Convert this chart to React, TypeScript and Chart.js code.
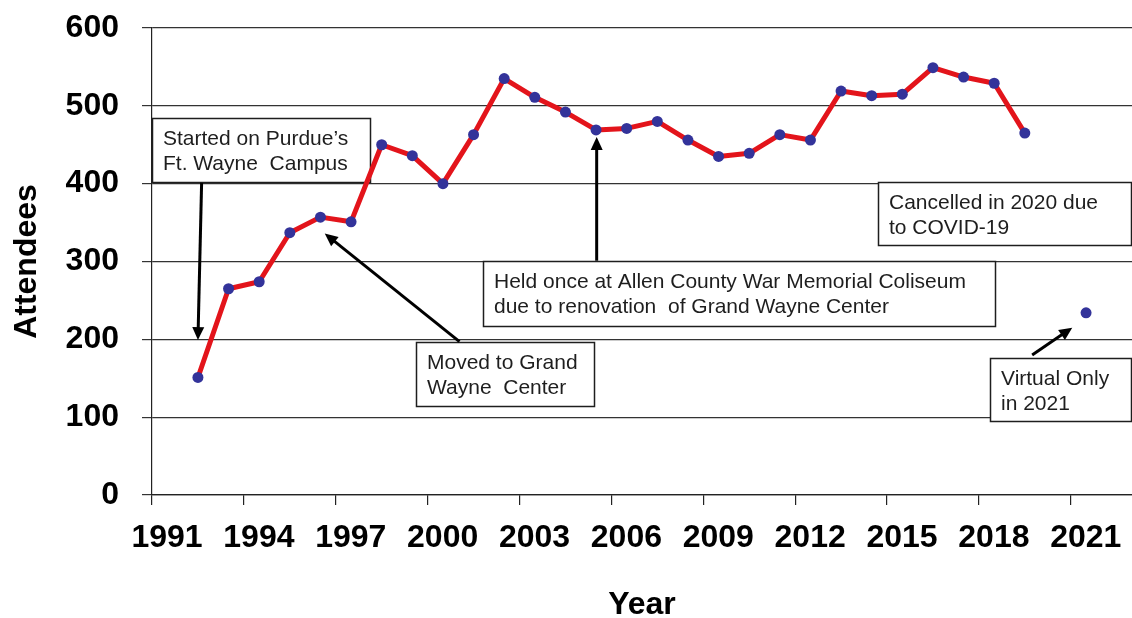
import React, { useEffect, useRef } from 'react';
import { Chart, registerables } from 'chart.js';

Chart.register(...registerables);

// ---- data ----
const years = [
  1992, 1993, 1994, 1995, 1996, 1997, 1998, 1999, 2000, 2001,
  2002, 2003, 2004, 2005, 2006, 2007, 2008, 2009, 2010, 2011,
  2012, 2013, 2014, 2015, 2016, 2017, 2018, 2019, 2020, 2021,
];
const attendees: (number | null)[] = [
  151, 265, 274, 337, 357, 351, 450, 436, 400, 463,
  535, 511, 492, 469, 471, 480, 456, 435, 439, 463,
  456, 519, 513, 515, 549, 537, 529, 465, null, 234,
];
const xTickYears = [1991, 1994, 1997, 2000, 2003, 2006, 2009, 2012, 2015, 2018, 2021];
const yTickValues = [0, 100, 200, 300, 400, 500, 600];

// annotation boxes: [xLeft, yTop, xRight, yBottom] in data units; arrows [from, to] in data units
type Note = { lines: string[]; box: number[]; arrow?: number[][] };
const notes: Note[] = [
  { lines: ['Started on Purdue\u2019s', 'Ft. Wayne  Campus'], box: [1991, 485, 1998.15, 402], arrow: [[1992.62, 401], [1992.5, 199]] },
  { lines: ['Moved to Grand', 'Wayne  Center'], box: [1999.61, 197, 2005.45, 114.7], arrow: [[2001.04, 197], [1996.64, 336]] },
  { lines: ['Held once at Allen County War Memorial Coliseum', 'due to renovation  of Grand Wayne Center'], box: [2001.8, 301, 2018.57, 217.5], arrow: [[2005.52, 301], [2005.52, 460]] },
  { lines: ['Cancelled in 2020 due', 'to COVID-19'], box: [2014.72, 402.5, 2023, 321.5] },
  { lines: ['Virtual Only', 'in 2021'], box: [2018.37, 176.4, 2023, 95.5], arrow: [[2019.74, 180], [2021.05, 215]] },
];

const notesPlugin = {
  id: 'notes',
  beforeDatasetsDraw(chart: any) {
    const { ctx } = chart;
    const xs = chart.scales.x;
    const ys = chart.scales.y;
    ctx.save();
    for (const n of notes) {
      const x1 = Math.round(xs.getPixelForValue(n.box[0]));
      const y1 = Math.round(ys.getPixelForValue(n.box[1]));
      const x2 = Math.round(xs.getPixelForValue(n.box[2]));
      const y2 = Math.round(ys.getPixelForValue(n.box[3]));
      const w = Math.min(x2, chart.width) - x1 - 1;
      ctx.fillStyle = '#ffffff';
      ctx.fillRect(x1, y1, w, y2 - y1);
      ctx.strokeStyle = '#1e1e1e';
      ctx.lineWidth = 1.5;
      ctx.strokeRect(x1 + 0.5, y1 + 0.5, w, y2 - y1);
      ctx.fillStyle = '#1e1e1e';
      ctx.font = '21px "Liberation Sans", Arial, sans-serif';
      ctx.textAlign = 'left';
      ctx.textBaseline = 'alphabetic';
      n.lines.forEach((t, i) => {
        ctx.fillText(t, x1 + 11, y1 + 27 + i * 24.5);
      });
    }
    for (const n of notes) {
      if (!n.arrow) continue;
      const sx = xs.getPixelForValue(n.arrow[0][0]);
      const sy = ys.getPixelForValue(n.arrow[0][1]);
      const ex = xs.getPixelForValue(n.arrow[1][0]);
      const ey = ys.getPixelForValue(n.arrow[1][1]);
      const ang = Math.atan2(ey - sy, ex - sx);
      const hl = 13;
      const hw = 6;
      const bx = ex - hl * Math.cos(ang);
      const by = ey - hl * Math.sin(ang);
      ctx.strokeStyle = '#000';
      ctx.lineWidth = 3;
      ctx.beginPath();
      ctx.moveTo(sx, sy);
      ctx.lineTo(bx + 2 * Math.cos(ang), by + 2 * Math.sin(ang));
      ctx.stroke();
      ctx.fillStyle = '#000';
      ctx.beginPath();
      ctx.moveTo(ex, ey);
      ctx.lineTo(bx - hw * Math.sin(ang), by + hw * Math.cos(ang));
      ctx.lineTo(bx + hw * Math.sin(ang), by - hw * Math.cos(ang));
      ctx.closePath();
      ctx.fill();
    }
    ctx.restore();
  },
};

export default function App() {
  const ref = useRef<HTMLCanvasElement | null>(null);
  useEffect(() => {
    if (!ref.current) return;
    const points = years.map((yr, i) => ({ x: yr + 0.5, y: attendees[i] }));
    const chart = new Chart(ref.current, {
      type: 'line',
      data: {
        datasets: [
          {
            data: points as any,
            borderColor: '#E3141B',
            borderWidth: 5,
            borderJoinStyle: 'round',
            borderCapStyle: 'round',
            pointBackgroundColor: '#33339A',
            pointBorderColor: '#33339A',
            pointBorderWidth: 0,
            pointRadius: 5.5,
            spanGaps: false,
            tension: 0,
            clip: false as any,
          },
        ],
      },
      options: {
        animation: false,
        responsive: false,
        layout: { autoPadding: false, padding: { top: 28, right: 0, left: 0, bottom: 0 } },
        plugins: { legend: { display: false }, tooltip: { enabled: false } },
        scales: {
          x: {
            type: 'linear',
            min: 1991,
            max: 2023,
            afterBuildTicks: (axis: any) => {
              axis.ticks = xTickYears.map((v) => ({ value: v }));
            },
            afterFit: (scale: any) => {
              scale.height = 123;
              scale.paddingLeft = 0;
              scale.paddingRight = 0;
            },
            ticks: {
              callback: (v: any) => String(v),
              font: { family: '"Liberation Sans", Arial, sans-serif', size: 32, weight: 'bold' },
              color: '#000',
              padding: 14,
              labelOffset: 15,
              maxRotation: 0,
              autoSkip: false,
            },
            grid: { drawOnChartArea: false, drawTicks: true, tickLength: 10, color: '#222', lineWidth: 1.2 },
            border: { display: true, color: '#222', width: 1.2 },
            title: {
              display: true,
              text: 'Year',
              color: '#000',
              font: { family: '"Liberation Sans", Arial, sans-serif', size: 32, weight: 'bold', lineHeight: 1 },
              padding: { top: 0, bottom: -3 },
            },
          },
          y: {
            min: 0,
            max: 600,
            afterBuildTicks: (axis: any) => {
              axis.ticks = yTickValues.map((v) => ({ value: v }));
            },
            afterFit: (scale: any) => {
              scale.width = 152;
              scale.paddingTop = 0;
              scale.paddingBottom = 0;
            },
            ticks: {
              callback: (v: any) => String(v),
              font: { family: '"Liberation Sans", Arial, sans-serif', size: 32, weight: 'bold' },
              color: '#000',
              padding: 23,
            },
            grid: { color: '#333', lineWidth: 1.2, tickLength: 10 },
            border: { display: true, color: '#222', width: 1.2 },
            title: {
              display: true,
              text: 'Attendees',
              color: '#000',
              font: { family: '"Liberation Sans", Arial, sans-serif', size: 32, weight: 'bold', lineHeight: 1 },
              padding: { top: 11, bottom: 0 },
            },
          },
        },
      },
      plugins: [notesPlugin],
    });
    return () => chart.destroy();
  }, []);
  return (
    <div style={{ position: 'fixed', left: 0, top: 0, width: 1132, height: 618, background: '#fff' }}>
      <canvas ref={ref} width={1132} height={618} style={{ display: 'block' }} />
    </div>
  );
}
